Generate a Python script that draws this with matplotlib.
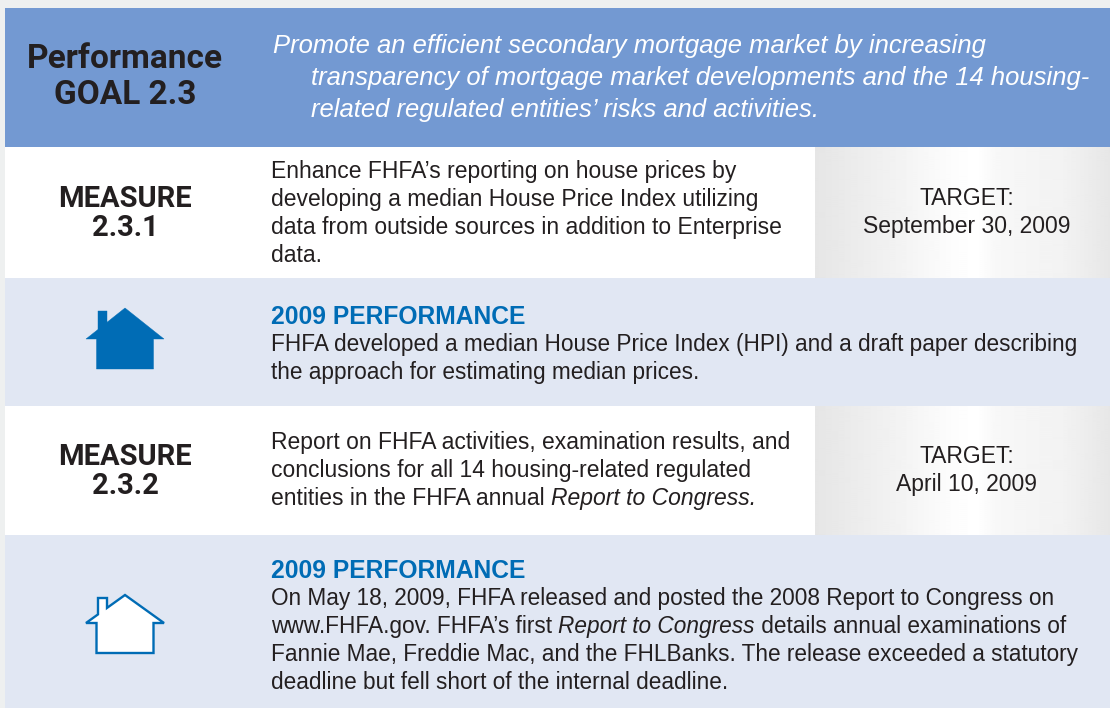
#--------importing modules-------------

import matplotlib
matplotlib.use("Agg")
import matplotlib.pyplot as plt
import numpy as np
from matplotlib.patches import Rectangle, Polygon

#-------text of the panel---------------

goal_title = ["Performance", "GOAL 2.3"]
goal_text = ["Promote an efficient secondary mortgage market by increasing",
             "transparency of mortgage market developments and the 14 housing-",
             "related regulated entities’ risks and activities."]
measure_names = [["MEASURE", "2.3.1"], ["MEASURE", "2.3.2"]]
# lines are (before italics, italics, after italics)
measure_text = [["Enhance FHFA’s reporting on house prices by",
                 "developing a median House Price Index utilizing",
                 "data from outside sources in addition to Enterprise",
                 "data."],
                ["Report on FHFA activities, examination results, and",
                 "conclusions for all 14 housing-related regulated",
                 ("entities in the FHFA annual ", "Report to Congress.", "")]]
targets = [["TARGET:", "September 30, 2009"], ["TARGET:", "April 10, 2009"]]
perf_head = "2009 PERFORMANCE"
perf_text = [["FHFA developed a median House Price Index (HPI) and a draft paper describing",
              "the approach for estimating median prices."],
             ["On May 18, 2009, FHFA released and posted the 2008 Report to Congress on",
              ("www.FHFA.gov. FHFA’s first ", "Report to Congress", " details annual examinations of"),
              "Fannie Mae, Freddie Mac, and the FHLBanks. The release exceeded a statutory",
              "deadline but fell short of the internal deadline."]]

#-------colours and fonts---------------

plt.rcParams['font.family'] = ['Liberation Sans', 'DejaVu Sans']

heavy = ['Roboto', 'Liberation Sans']
dark = "#231f20"
header_blue = "#7399d2"
pale_blue = "#e1e7f3"
icon_blue = "#006cb5"
measure_size = 16.5
perf_size = 16.34

#-------figure in pixel coordinates-----

fig = plt.figure(figsize=(11.1, 7.08), dpi=100, facecolor="#eef0f0")
ax = fig.add_axes([0, 0, 1, 1])
ax.set_xlim(0, 1110)
ax.set_ylim(708, 0)
ax.axis("off")
rend = fig.canvas.get_renderer()


def band(y0, y1, colour):
    ax.add_patch(Rectangle((5, y0), 1105, y1 - y0, facecolor=colour, edgecolor="none"))


band(8, 147, header_blue)
band(147, 278, "white")
band(278, 406, pale_blue)
band(406, 535, "white")
band(535, 708, pale_blue)

#-------grey shaded target boxes--------

px = np.arange(815, 1110)
shade = np.interp(px, [815, 897, 953, 977, 997, 1063, 1110],
                  [.90, .95, .99, 1, .97, .95, .905])
shade = np.tile(shade, (2, 1))
for y0, y1 in [(147, 278), (406, 535)]:
    ax.imshow(shade, extent=(815, 1110, y1, y0), cmap="gray", vmin=0, vmax=1,
              aspect="auto", interpolation="bilinear", zorder=1)
ax.set_xlim(0, 1110)
ax.set_ylim(708, 0)


def width(s, size, style="normal"):
    # measured against a dot so the spaces at the ends are counted
    t1 = ax.text(0, 0, s + ".", fontsize=size, style=style)
    t2 = ax.text(0, 0, ".", fontsize=size, style=style)
    w = t1.get_window_extent(rend).width - t2.get_window_extent(rend).width
    t1.remove()
    t2.remove()
    return w


def lines(x, ys, texts, **kw):
    for y, s in zip(ys, texts):
        if isinstance(s, tuple):
            xx = x
            for part, st in zip(s, ["normal", "italic", "normal"]):
                ax.text(xx, y, part, va="center_baseline", zorder=3, style=st, **kw)
                xx += width(part, kw["fontsize"], st)
        else:
            ax.text(x, y, s, va="center_baseline", zorder=3, **kw)


#-------header--------------------------

ax.text(125, 56, goal_title[0], ha="center", va="center_baseline", fontsize=24,
        fontweight="bold", family=heavy, color=dark, zorder=3)
ax.text(125, 92, goal_title[1], ha="center", va="center_baseline", fontsize=24,
        fontweight="bold", family=heavy, color=dark, zorder=3)
for x, y, s in zip([273, 311, 311], [44, 76, 107], goal_text):
    ax.text(x, y, s, va="center_baseline", fontsize=18.42, style="italic",
            color="white", zorder=3)

#-------measures and targets------------

for name, ys in zip(measure_names, [(196, 225), (454, 483)]):
    lines(125, ys, name, ha="center", fontsize=21, fontweight="bold",
          family=heavy, color=dark)
lines(271, [169, 197, 225, 253], measure_text[0], fontsize=measure_size, color=dark)
lines(271, [440, 468, 496], measure_text[1], fontsize=measure_size, color=dark)
lines(967, [196, 224], targets[0], ha="center", fontsize=measure_size, color=dark)
lines(967, [454, 482], targets[1], ha="center", fontsize=measure_size, color=dark)

#-------performance text----------------

for y in [314, 568]:
    ax.text(271, y, perf_head, va="center_baseline", fontsize=17.7, fontweight="bold",
            color=icon_blue, zorder=3)
lines(271, [342, 370], perf_text[0], fontsize=perf_size, color=dark)
lines(271, [596, 624, 652, 680], perf_text[1], fontsize=perf_size, color=dark)

#-------house icons---------------------


def house(top, eave, base, face, lw):
    slope = eave / 39
    pts = [(86, top + eave), (98, top + 27 * slope), (98, top + 3), (107, top + 3),
           (107, top + 18 * slope), (125, top), (164, top + eave),
           (153.5, top + eave), (153.5, top + base), (96.5, top + base), (96.5, top + eave)]
    ax.add_patch(Polygon(pts, closed=True, facecolor=face, edgecolor=icon_blue,
                         linewidth=lw, joinstyle="miter", zorder=3))


house(308, 31, 61, icon_blue, 0.3)
house(595, 28, 58, "white", 1.7)

fig.savefig("out.png", dpi=100, facecolor=fig.get_facecolor())
